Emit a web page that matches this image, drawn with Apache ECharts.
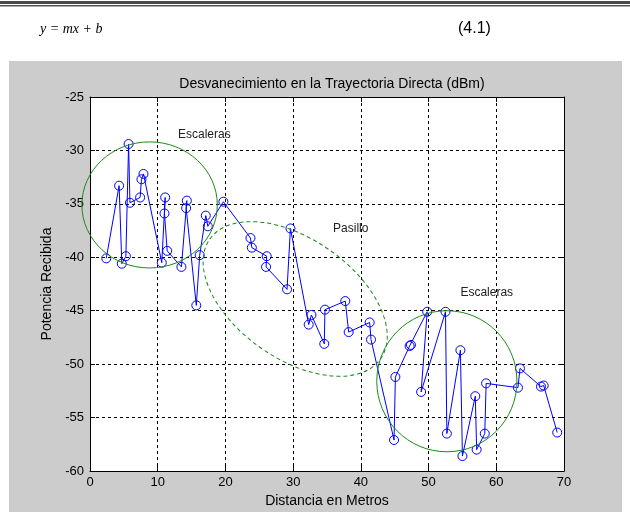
<!DOCTYPE html>
<html>
<head>
<meta charset="utf-8">
<script src="https://cdn.jsdelivr.net/npm/echarts@6/dist/echarts.min.js"></script>
<style>html,body{margin:0;padding:0;background:#fff;}#c{width:630px;height:512px;}</style>
</head>
<body>
<div id="c"></div>
<script>
// Measured points along the trajectory (in drawing order)
const distance = [2.4, 4.3, 4.7, 5.3, 5.7, 5.9, 7.4, 7.6, 7.9, 10.6, 11.1, 11.0, 11.4, 13.5, 14.3, 14.2, 15.7, 16.2, 17.1, 17.4, 19.7, 23.7, 23.9, 26.1, 26.0, 29.1, 29.6, 32.3, 32.7, 34.6, 34.7, 37.7, 38.2, 41.3, 41.5, 44.9, 45.1, 47.2, 47.4, 49.8, 48.9, 52.5, 52.7, 54.7, 55.0, 56.9, 57.1, 58.3, 58.5, 63.2, 63.5, 66.6, 67.0, 69.0];
const power = [-40.1, -33.3, -40.6, -39.9, -29.4, -34.9, -34.4, -32.7, -32.2, -40.5, -34.4, -35.9, -39.4, -40.9, -34.7, -35.4, -44.5, -39.8, -36.1, -37.1, -34.8, -38.2, -39.1, -39.9, -40.9, -43.0, -37.3, -46.3, -45.4, -48.1, -44.9, -44.1, -47.0, -46.1, -47.7, -57.1, -51.2, -48.3, -48.2, -45.1, -52.6, -45.1, -56.5, -48.7, -58.6, -53.0, -58.0, -56.5, -51.8, -52.2, -50.4, -52.1, -52.0, -56.4];

// Annotation ellipses: center (data units), radii (data units), rotation (deg, clockwise on screen), dashed flag
const ellipseCx = [8.8, 30.3, 52.7];
const ellipseCy = [-35.1, -43.9, -51.6];
const ellipseRx = [10.0, 15.4, 10.35];
const ellipseRy = [5.9, 5.6, 6.6];
const ellipseRot = [0, 35, 0];
const ellipseDashed = [0, 1, 0];

// Annotation texts
const noteText = ['Escaleras', 'Pasillo', 'Escaleras'];
const noteX = [13.0, 35.9, 54.7];
const noteY = [-28.5, -37.3, -43.3];

const titleText = 'Desvanecimiento en la Trayectoria Directa (dBm)';
const xName = 'Distancia en Metros';
const yName = 'Potencia Recibida';

const FONT = 'Liberation Sans, Arial, sans-serif';
const chart = echarts.init(document.getElementById('c'), null, {renderer: 'canvas'});

const ellipseData = ellipseCx.map((cx, i) => [cx, ellipseCy[i], ellipseRx[i], ellipseRy[i], ellipseRot[i], ellipseDashed[i]]);
const noteData = noteX.map((x, i) => [x, noteY[i], i]);

const axisCommon = {
  type: 'value',
  axisLine: {show: true, onZero: false, lineStyle: {color: '#000', width: 1}},
  axisTick: {show: true, inside: true, length: 5, lineStyle: {color: '#000', width: 1}},
};

chart.setOption({
  animation: false,
  backgroundColor: '#cccccc',
  graphic: [
    {type: 'rect', shape: {x: 0, y: 0, width: 630, height: 61}, style: {fill: '#fff'}, silent: true},
    {type: 'rect', shape: {x: 0, y: 0, width: 9, height: 512}, style: {fill: '#fff'}, silent: true},
    {type: 'rect', shape: {x: 622, y: 0, width: 8, height: 512}, style: {fill: '#fff'}, silent: true},
    {type: 'rect', shape: {x: 0, y: 1, width: 630, height: 3}, style: {fill: '#4a4a4a'}, silent: true},
    {type: 'rect', shape: {x: 0, y: 5, width: 630, height: 1.5}, style: {fill: '#555'}, silent: true},
    {type: 'text', x: 40, y: 29, style: {text: 'y = mx + b', font: 'italic 14px "Liberation Serif", "Times New Roman", serif', fill: '#000', verticalAlign: 'middle'}, silent: true},
    {type: 'text', x: 458, y: 29, style: {text: '(4.1)', font: '16px ' + FONT, fill: '#000', verticalAlign: 'middle'}, silent: true}
  ],
  title: {
    text: titleText,
    left: 327, top: 72, textAlign: 'center',
    textStyle: {fontSize: 14, fontWeight: 'normal', color: '#000', fontFamily: FONT}
  },
  grid: {left: 90, top: 97, width: 474, height: 374, show: true, backgroundColor: '#fff', borderWidth: 0, containLabel: false, outerBoundsMode: 'none'},
  xAxis: [
    Object.assign({}, axisCommon, {
      min: 0, max: 70, interval: 10, position: 'bottom',
      name: xName, nameLocation: 'middle', nameGap: 23,
      nameTextStyle: {fontSize: 14, color: '#000', fontFamily: FONT},
      axisLabel: {margin: 5, fontSize: 13, color: '#000', fontFamily: FONT},
      splitLine: {show: true, lineStyle: {color: '#000', width: 1, type: [3, 3]}}
    }),
    Object.assign({}, axisCommon, {
      min: 0, max: 70, interval: 10, position: 'top',
      axisLabel: {show: false}, splitLine: {show: false}
    })
  ],
  yAxis: [
    Object.assign({}, axisCommon, {
      min: -60, max: -25, interval: 5, position: 'left',
      name: yName, nameLocation: 'middle', nameGap: 33, nameRotate: 90,
      nameTextStyle: {fontSize: 14, color: '#000', fontFamily: FONT},
      axisLabel: {margin: 6, fontSize: 13, color: '#000', fontFamily: FONT},
      splitLine: {show: true, lineStyle: {color: '#000', width: 1, type: [3, 3]}}
    }),
    Object.assign({}, axisCommon, {
      min: -60, max: -25, interval: 5, position: 'right',
      axisLabel: {show: false}, splitLine: {show: false}
    })
  ],
  series: [
    {
      type: 'line',
      data: distance.map((d, i) => [d, power[i]]),
      symbol: 'circle', symbolSize: 9,
      itemStyle: {color: 'rgba(0,0,0,0)', borderColor: '#0000ff', borderWidth: 1},
      lineStyle: {color: '#0000ff', width: 1},
      z: 3
    },
    {
      type: 'custom',
      data: ellipseData,
      encode: {x: 0, y: 1},
      clip: false,
      z: 4,
      renderItem: function (params, api) {
        const c = api.coord([api.value(0), api.value(1)]);
        const sx = api.size([api.value(2), 0])[0];
        const sy = api.size([0, api.value(3)])[1];
        return {
          type: 'ellipse',
          x: c[0], y: c[1],
          rotation: -api.value(4) * Math.PI / 180,
          shape: {cx: 0, cy: 0, rx: sx, ry: sy},
          style: {fill: 'none', stroke: '#1a8a1a', lineWidth: 1, lineDash: api.value(5) ? [4, 3] : null}
        };
      }
    },
    {
      type: 'custom',
      data: noteData,
      encode: {x: 0, y: 1},
      clip: false,
      z: 5,
      renderItem: function (params, api) {
        const c = api.coord([api.value(0), api.value(1)]);
        return {
          type: 'text',
          x: c[0], y: c[1],
          style: {text: noteText[api.value(2)], fill: '#222', fontSize: 12, fontFamily: FONT, align: 'left', verticalAlign: 'middle'}
        };
      }
    }
  ]
});
</script>
</body>
</html>
